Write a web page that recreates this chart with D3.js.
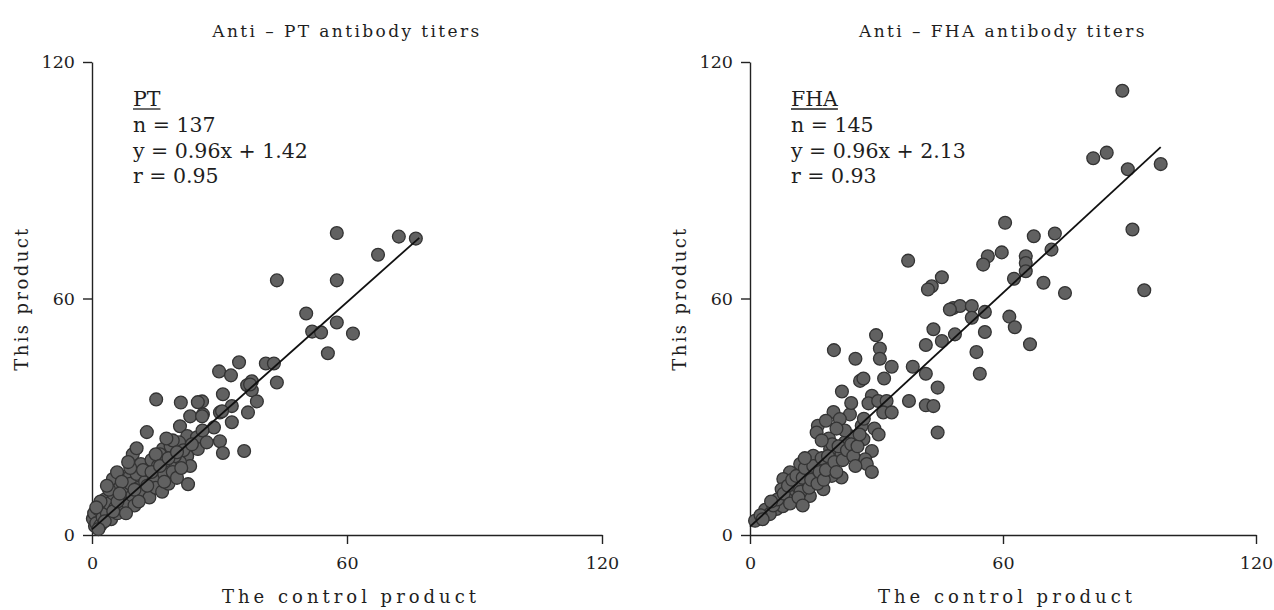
<!DOCTYPE html>
<html>
<head>
<meta charset="utf-8">
<script src="https://cdn.jsdelivr.net/npm/d3@7"></script>
<style>
  body { margin: 0; background: #fff; }
  text { font-family: 'DejaVu Serif', serif; fill: #1e1e1e; }
</style>
</head>
<body>
<div id="chart"></div>
<script>
// values, [control product, this product]
const ptData = [
  [57.6, 76.6], [72.2, 75.7], [76.2, 75.2], [67.3, 71.1], [43.5, 64.6], [57.6, 64.6], [50.4, 56.2],
  [51.8, 51.6], [53.9, 51.4], [57.6, 53.9], [61.4, 51.1], [55.5, 46.1], [40.9, 43.5], [42.8, 43.5],
  [34.6, 43.8], [29.9, 41.5], [32.7, 40.5], [43.5, 38.7], [37.6, 39.0], [36.5, 38.0], [37.6, 36.7],
  [38.8, 33.9], [30.8, 35.7], [30.1, 31.1], [32.9, 32.7], [36.7, 31.1], [25.9, 33.9], [26.1, 30.6],
  [15.1, 34.4], [20.9, 33.6], [24.9, 33.7], [37.2, 38.2], [32.9, 28.6], [30.1, 23.8], [30.8, 20.8],
  [35.8, 21.3], [28.7, 27.3], [30.6, 31.4], [12.9, 26.1], [9.6, 20.5], [16.7, 21.8], [20.7, 27.6],
  [23.1, 30.1], [25.9, 30.1], [22.4, 25.1], [24.7, 24.8], [24.9, 21.8], [22.4, 20.0], [23.1, 17.5],
  [22.6, 12.9], [20.7, 18.5], [18.4, 17.5], [16.0, 14.2], [14.1, 11.6], [11.3, 9.9], [7.3, 8.4],
  [4.9, 14.2], [5.9, 15.9], [8.9, 14.9], [12.0, 14.9], [4.2, 6.6], [1.9, 4.8], [0.7, 2.3], [0.2, 4.1],
  [2.6, 7.3], [0.5, 5.5], [1.0, 3.0], [1.5, 6.5], [2.0, 2.5], [2.5, 4.5], [3.0, 9.0], [3.5, 5.5],
  [4.0, 8.0], [4.5, 4.0], [5.0, 10.5], [5.5, 7.0], [6.0, 5.5], [6.5, 12.0], [7.0, 9.5], [7.5, 6.5],
  [8.0, 11.0], [8.5, 8.0], [9.0, 13.0], [9.5, 10.0], [10.0, 7.5], [10.5, 15.5], [11.0, 12.0],
  [11.5, 18.0], [12.0, 10.5], [12.5, 13.5], [13.0, 16.5], [13.5, 9.5], [14.0, 19.0], [14.5, 14.0],
  [15.0, 12.0], [15.5, 17.5], [16.0, 20.5], [16.5, 11.0], [17.0, 15.5], [17.5, 19.0], [18.0, 13.0],
  [18.5, 22.5], [19.0, 16.0], [19.5, 20.0], [20.0, 14.5], [20.5, 23.5], [21.0, 17.0], [21.5, 21.5],
  [2.0, 8.5], [3.0, 3.5], [4.0, 11.5], [5.0, 6.0], [6.0, 8.5], [7.0, 13.5], [8.0, 5.5], [9.0, 17.0],
  [10.0, 11.5], [11.0, 8.5], [12.0, 16.5], [13.0, 12.5], [14.0, 16.0], [15.0, 20.5], [16.0, 17.5],
  [17.0, 13.5], [18.0, 19.5], [19.0, 24.0], [20.0, 21.0], [1.0, 7.0], [1.5, 1.5], [3.5, 12.5],
  [6.5, 10.5], [8.5, 18.5], [10.5, 22.0], [17.5, 24.5], [23.5, 23.0], [26.0, 26.5], [27.0, 23.5]
];

const fhaData = [
  [88.3, 112.7], [81.4, 95.6], [84.6, 97.0], [97.4, 94.1], [89.6, 92.8], [90.7, 77.5], [93.5, 62.1],
  [60.5, 79.2], [67.3, 75.8], [72.3, 76.5], [71.5, 72.4], [65.4, 70.7], [65.4, 69.0], [65.4, 66.9],
  [69.6, 64.0], [74.7, 61.4], [62.6, 65.0], [59.7, 71.7], [56.4, 70.7], [55.3, 68.6], [37.5, 69.6],
  [45.5, 65.4], [43.1, 63.1], [42.2, 62.3],
  [48.2, 57.6], [49.8, 58.1], [47.4, 57.2], [52.6, 58.1], [55.7, 56.6], [52.6, 55.1], [61.5, 55.4],
  [62.8, 52.7], [55.7, 51.5], [53.7, 46.4], [54.5, 40.9], [48.6, 50.9], [45.5, 49.2], [43.5, 52.2],
  [41.7, 48.2], [38.6, 42.7], [41.7, 40.9], [44.5, 37.4], [44.5, 26.0], [41.7, 32.9], [43.5, 32.7],
  [37.7, 34.0], [33.6, 42.7], [31.8, 39.7], [29.9, 50.7], [30.8, 47.3], [30.8, 44.7], [25.0, 44.7],
  [19.9, 46.9], [26.1, 39.1], [26.9, 39.7], [21.8, 36.4], [28.9, 35.3], [28.1, 33.4], [30.4, 34.0],
  [32.4, 34.0], [31.6, 31.1], [33.6, 31.1], [19.8, 31.2], [23.7, 30.6], [21.3, 29.4], [26.5, 27.7],
  [16.1, 27.7], [15.8, 26.0], [18.7, 24.5], [23.7, 25.1], [22.5, 23.5], [26.9, 24.3], [28.9, 21.3],
  [27.3, 19.2], [27.7, 18.0], [28.9, 16.0], [21.7, 20.7], [19.0, 21.8], [15.0, 20.1], [11.9, 18.0],
  [9.5, 15.9], [7.9, 14.2], [7.5, 11.6], [10.3, 10.8], [14.2, 9.9], [17.4, 11.6], [21.7, 14.6],
  [19.4, 15.0], [15.8, 15.0], [13.4, 13.3], [11.1, 12.5], [19.0, 17.5], [16.6, 18.0], [14.6, 16.3],
  [8.7, 9.1], [6.3, 6.6], [3.6, 6.4], [4.7, 5.3], [1.2, 3.6], [7.8, 7.3], [66.4, 48.4],
  [2.5, 5.0], [5.5, 7.5], [6.5, 9.0], [8.0, 10.5], [9.0, 12.5], [10.0, 14.0], [11.0, 15.0],
  [12.0, 11.0], [12.5, 14.5], [13.0, 17.0], [14.0, 12.0], [14.5, 14.0], [15.0, 17.5], [16.0, 13.0],
  [16.5, 16.0], [17.0, 19.5], [17.5, 14.0], [18.0, 16.5], [18.5, 20.0], [19.5, 23.0], [20.0, 18.5],
  [20.5, 16.0], [21.0, 22.5], [22.0, 19.0], [22.5, 26.5], [23.0, 21.5], [24.0, 23.0], [24.5, 20.0],
  [25.5, 22.5], [26.0, 25.5], [20.5, 27.0], [18.0, 29.0], [17.0, 24.0], [13.0, 19.5], [9.5, 8.0],
  [11.5, 9.5], [5.0, 8.5], [3.0, 4.0], [12.5, 7.5], [25.0, 17.5], [27.0, 29.5], [24.0, 33.5],
  [29.5, 27.0], [30.5, 25.5]
];

const axisTicks = [0, 60, 120];
const panelTitles = ['Anti – PT antibody titers', 'Anti – FHA antibody titers'];
const statNames = ['PT', 'FHA'];
const statLines = [
  ['n = 137', 'y = 0.96x + 1.42', 'r = 0.95'],
  ['n = 145', 'y = 0.96x + 2.13', 'r = 0.93']
];
// regression line ends, in data units
const fitLines = [
  [[0, 1.42], [77, 75.4]],
  [[0, 2.13], [97.4, 98.4]]
];
const xLabel = 'The control product';
const yLabel = 'This product';

const width = 1274;
const height = 610;
const plotLeft = [92, 750];
const plotRight = [602, 1256];
const plotTop = 62;
const plotBottom = 535;

const svg = d3.select('#chart')
  .append('svg')
  .attr('width', width)
  .attr('height', height);

[ptData, fhaData].forEach((points, i) => {
  const x = d3.scaleLinear().domain([0, 120]).range([plotLeft[i], plotRight[i]]);
  const y = d3.scaleLinear().domain([0, 120]).range([plotBottom, plotTop]);
  const g = svg.append('g');
  const midX = (plotLeft[i] + plotRight[i]) / 2;

  // axes
  const xAxis = g.append('g')
    .attr('transform', `translate(0,${plotBottom})`)
    .call(d3.axisBottom(x).tickValues(axisTicks).tickSize(9).tickSizeOuter(0).tickPadding(13));
  const yAxis = g.append('g')
    .attr('transform', `translate(${plotLeft[i]},0)`)
    .call(d3.axisLeft(y).tickValues(axisTicks).tickSize(9).tickSizeOuter(0).tickPadding(8));

  [xAxis, yAxis].forEach(a => {
    a.attr('font-family', null).attr('font-size', null);
    a.selectAll('path, line').attr('stroke', '#222').attr('stroke-width', 1.4);
    a.selectAll('text').style('font-size', '17.5px').attr('fill', '#1e1e1e');
  });

  // dots
  g.append('g').selectAll('circle')
    .data(points)
    .join('circle')
    .attr('cx', d => x(d[0]))
    .attr('cy', d => y(d[1]))
    .attr('r', 6.4)
    .attr('fill', '#616161')
    .attr('stroke', '#333')
    .attr('stroke-width', 1.3);

  // regression line
  g.append('path')
    .datum(fitLines[i])
    .attr('d', d3.line().x(d => x(d[0])).y(d => y(d[1])))
    .attr('fill', 'none')
    .attr('stroke', '#111')
    .attr('stroke-width', 1.8);

  // title
  g.append('text')
    .attr('x', midX)
    .attr('y', 37)
    .attr('text-anchor', 'middle')
    .style('font-size', '17px')
    .style('letter-spacing', '2.4px')
    .text(panelTitles[i]);

  // axis labels
  g.append('text')
    .attr('x', midX + 4)
    .attr('y', 603)
    .attr('text-anchor', 'middle')
    .style('font-size', '18px')
    .style('letter-spacing', '4px')
    .text(xLabel);

  g.append('text')
    .attr('transform', `translate(${plotLeft[i] - 70},${(plotTop + plotBottom) / 2}) rotate(-90)`)
    .attr('text-anchor', 'middle')
    .attr('dy', '0.35em')
    .style('font-size', '18px')
    .style('letter-spacing', '2.4px')
    .text(yLabel);

  // stats block
  const sx = plotLeft[i] + 41;
  const name = g.append('text')
    .attr('x', sx)
    .attr('y', 106)
    .style('font-size', '20.5px')
    .text(statNames[i]);
  const nameW = name.node().getComputedTextLength();
  g.append('line')
    .attr('x1', sx)
    .attr('x2', sx + nameW)
    .attr('y1', 109)
    .attr('y2', 109)
    .attr('stroke', '#1e1e1e')
    .attr('stroke-width', 1.3);

  g.selectAll('.stat')
    .data(statLines[i])
    .join('text')
    .attr('class', 'stat')
    .attr('x', sx)
    .attr('y', (d, j) => 132 + j * 25.5)
    .style('font-size', '20.5px')
    .text(d => d);
});
</script>
</body>
</html>
